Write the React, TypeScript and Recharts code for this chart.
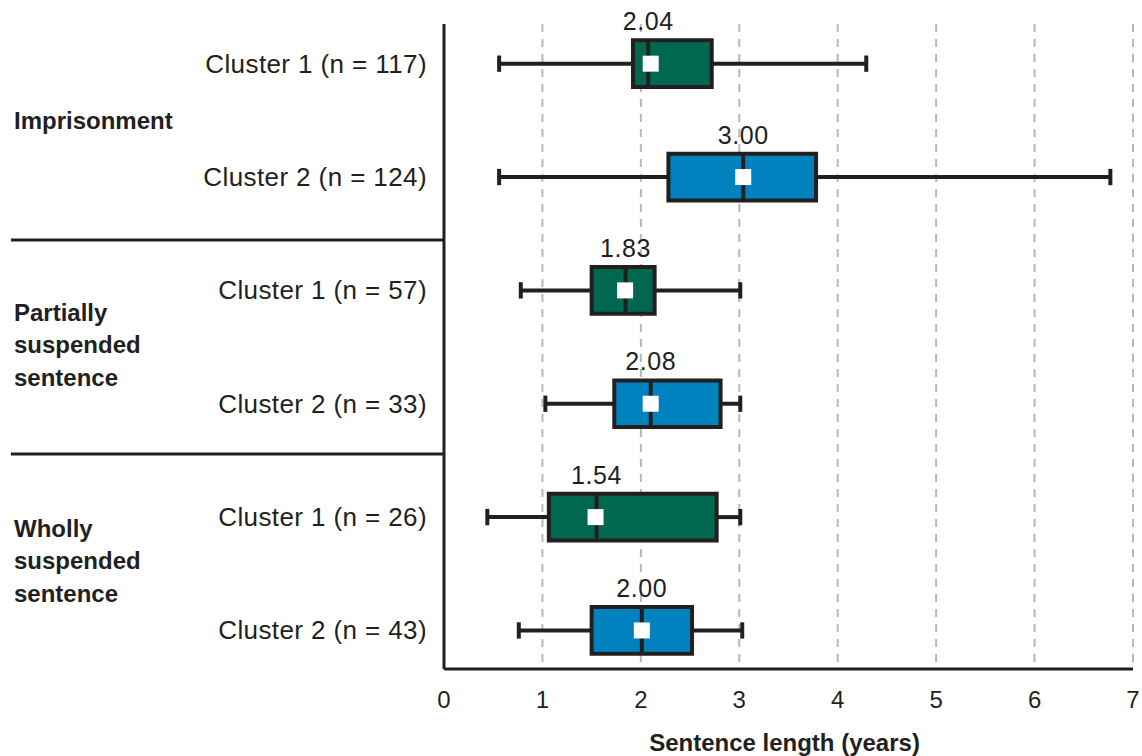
import React from 'react';
import {
  ScatterChart,
  Scatter,
  XAxis,
  YAxis,
  CartesianGrid,
  ReferenceArea,
  ReferenceLine,
  Label,
} from 'recharts';

// ---------- data ----------
const categories = [
  'Cluster 1 (n = 117)',
  'Cluster 2 (n = 124)',
  'Cluster 1 (n = 57)',
  'Cluster 2 (n = 33)',
  'Cluster 1 (n = 26)',
  'Cluster 2 (n = 43)',
];
const clusterIds = [1, 2, 1, 2, 1, 2];
const whiskerLow = [0.56, 0.56, 0.78, 1.03, 0.44, 0.76];
const q1 = [1.92, 2.28, 1.5, 1.73, 1.065, 1.5];
const median = [2.075, 3.04, 1.845, 2.1, 1.55, 2.01];
const q3 = [2.72, 3.78, 2.14, 2.81, 2.77, 2.52];
const whiskerHigh = [4.29, 6.77, 3.01, 3.01, 3.01, 3.03];
const means = [2.1, 3.04, 1.84, 2.1, 1.54, 2.01];
const medianLabels = ['2.04', '3.00', '1.83', '2.08', '1.54', '2.00'];
const groupNames = [
  ['Imprisonment'],
  ['Partially', 'suspended', 'sentence'],
  ['Wholly', 'suspended', 'sentence'],
];
const xTicks = [0, 1, 2, 3, 4, 5, 6, 7];

// ---------- layout / style ----------
const W = 1142;
const H = 756;
const FONT = '"Liberation Sans", Arial, sans-serif';
const INK = '#231f20';
const FILLS: Record<number, string> = { 1: '#00684f', 2: '#0082be' };
const BOX_HALF = 0.206;
const CAP_HALF = 0.072;
const Y_DOMAIN: [number, number] = [-0.35, 5.34];
const groupLabelPos = [0.576, 2.27, 4.175];
const separatorPos = [1.555, 3.443];
const SEP_X_START = -4.4;
const LW = 4;

const rowIdx = categories.map((_, i) => i);
const meanPts = rowIdx.map((i) => ({ x: means[i], y: i }));
const labelPts = rowIdx.map((i) => ({ x: median[i], y: i, label: medianLabels[i] }));

const RowTick = (props: any) => {
  const { x, y, payload } = props;
  const i = Math.round(payload.value);
  return (
    <text x={x - 9} y={y + 9} textAnchor="end" fontFamily={FONT} fontSize={26} fill={INK} letterSpacing={0.4}>
      {categories[i]}
    </text>
  );
};

const GroupTick = (props: any) => {
  const { y, index } = props;
  const lines = groupNames[index] || [];
  return (
    <g>
      {lines.map((ln, k) => (
        <text key={k} x={14} y={y + k * 32.3} fontFamily={FONT} fontSize={24} fontWeight="bold" fill={INK}>
          {ln}
        </text>
      ))}
    </g>
  );
};

const MeanShape = (props: any) => {
  const { cx, cy } = props;
  return <rect x={cx - 8} y={cy - 8} width={16} height={16} fill="#ffffff" />;
};

const LabelShape = (props: any) => {
  const { cx, cy, payload } = props;
  return (
    <text x={cx} y={cy - 33.5} textAnchor="middle" fontFamily={FONT} fontSize={25} fill={INK} letterSpacing={0.6}>
      {payload.label}
    </text>
  );
};

const renderTitle = (props: any) => {
  const vb = props.viewBox || {};
  return (
    <text
      x={vb.x + vb.width / 2 - 4}
      y={vb.y + 82}
      textAnchor="middle"
      fontFamily={FONT}
      fontSize={24}
      fontWeight="bold"
      fill={INK}
    >
      Sentence length (years)
    </text>
  );
};

export default function App() {
  return (
    <div style={{ position: 'absolute', left: 0, top: 0, width: W, height: H, background: '#fff' }}>
      <ScatterChart width={W} height={H} margin={{ top: 24, right: 9, bottom: 0, left: 0 }}>
        <CartesianGrid horizontal={false} vertical stroke="#b8b8b8" strokeWidth={2} strokeDasharray="8 7" />
        <XAxis
          type="number"
          dataKey="x"
          domain={[0, 7]}
          ticks={xTicks}
          height={87}
          tickLine={false}
          tickMargin={16}
          axisLine={{ stroke: INK, strokeWidth: 3 }}
          tick={{ fontFamily: FONT, fontSize: 24, fill: INK }}
        >
          <Label content={renderTitle} />
        </XAxis>
        <YAxis
          type="number"
          dataKey="y"
          domain={Y_DOMAIN}
          reversed
          ticks={rowIdx}
          width={443}
          tickLine={false}
          axisLine={{ stroke: INK, strokeWidth: 3 }}
          tick={<RowTick />}
        />
        <YAxis
          yAxisId="grp"
          type="number"
          domain={Y_DOMAIN}
          reversed
          allowDataOverflow
          ticks={groupLabelPos}
          width={1}
          tickLine={false}
          axisLine={false}
          tick={<GroupTick />}
        />

        {separatorPos.map((s, k) => (
          <ReferenceLine
            key={'sep' + k}
            segment={[
              { x: SEP_X_START, y: s },
              { x: 0, y: s },
            ]}
            stroke={INK}
            strokeWidth={3}
            ifOverflow="visible"
          />
        ))}

        {rowIdx.map((i) => (
          <ReferenceLine
            key={'wl' + i}
            segment={[
              { x: whiskerLow[i], y: i },
              { x: q1[i], y: i },
            ]}
            stroke={INK}
            strokeWidth={LW}
            ifOverflow="visible"
          />
        ))}
        {rowIdx.map((i) => (
          <ReferenceLine
            key={'wh' + i}
            segment={[
              { x: q3[i], y: i },
              { x: whiskerHigh[i], y: i },
            ]}
            stroke={INK}
            strokeWidth={LW}
            ifOverflow="visible"
          />
        ))}
        {rowIdx.map((i) => (
          <ReferenceLine
            key={'cl' + i}
            segment={[
              { x: whiskerLow[i], y: i - CAP_HALF },
              { x: whiskerLow[i], y: i + CAP_HALF },
            ]}
            stroke={INK}
            strokeWidth={LW}
            ifOverflow="visible"
          />
        ))}
        {rowIdx.map((i) => (
          <ReferenceLine
            key={'ch' + i}
            segment={[
              { x: whiskerHigh[i], y: i - CAP_HALF },
              { x: whiskerHigh[i], y: i + CAP_HALF },
            ]}
            stroke={INK}
            strokeWidth={LW}
            ifOverflow="visible"
          />
        ))}
        {rowIdx.map((i) => (
          <ReferenceArea
            key={'box' + i}
            x1={q1[i]}
            x2={q3[i]}
            y1={i - BOX_HALF}
            y2={i + BOX_HALF}
            fill={FILLS[clusterIds[i]]}
            fillOpacity={1}
            stroke={INK}
            strokeWidth={LW}
            ifOverflow="visible"
          />
        ))}
        {rowIdx.map((i) => (
          <ReferenceLine
            key={'med' + i}
            segment={[
              { x: median[i], y: i - BOX_HALF },
              { x: median[i], y: i + BOX_HALF },
            ]}
            stroke={INK}
            strokeWidth={LW}
            ifOverflow="visible"
            zIndex={700}
          />
        ))}

        <Scatter data={meanPts} shape={<MeanShape />} isAnimationActive={false} zIndex={800} />
        <Scatter data={labelPts} shape={<LabelShape />} isAnimationActive={false} zIndex={800} />
      </ScatterChart>
    </div>
  );
}
